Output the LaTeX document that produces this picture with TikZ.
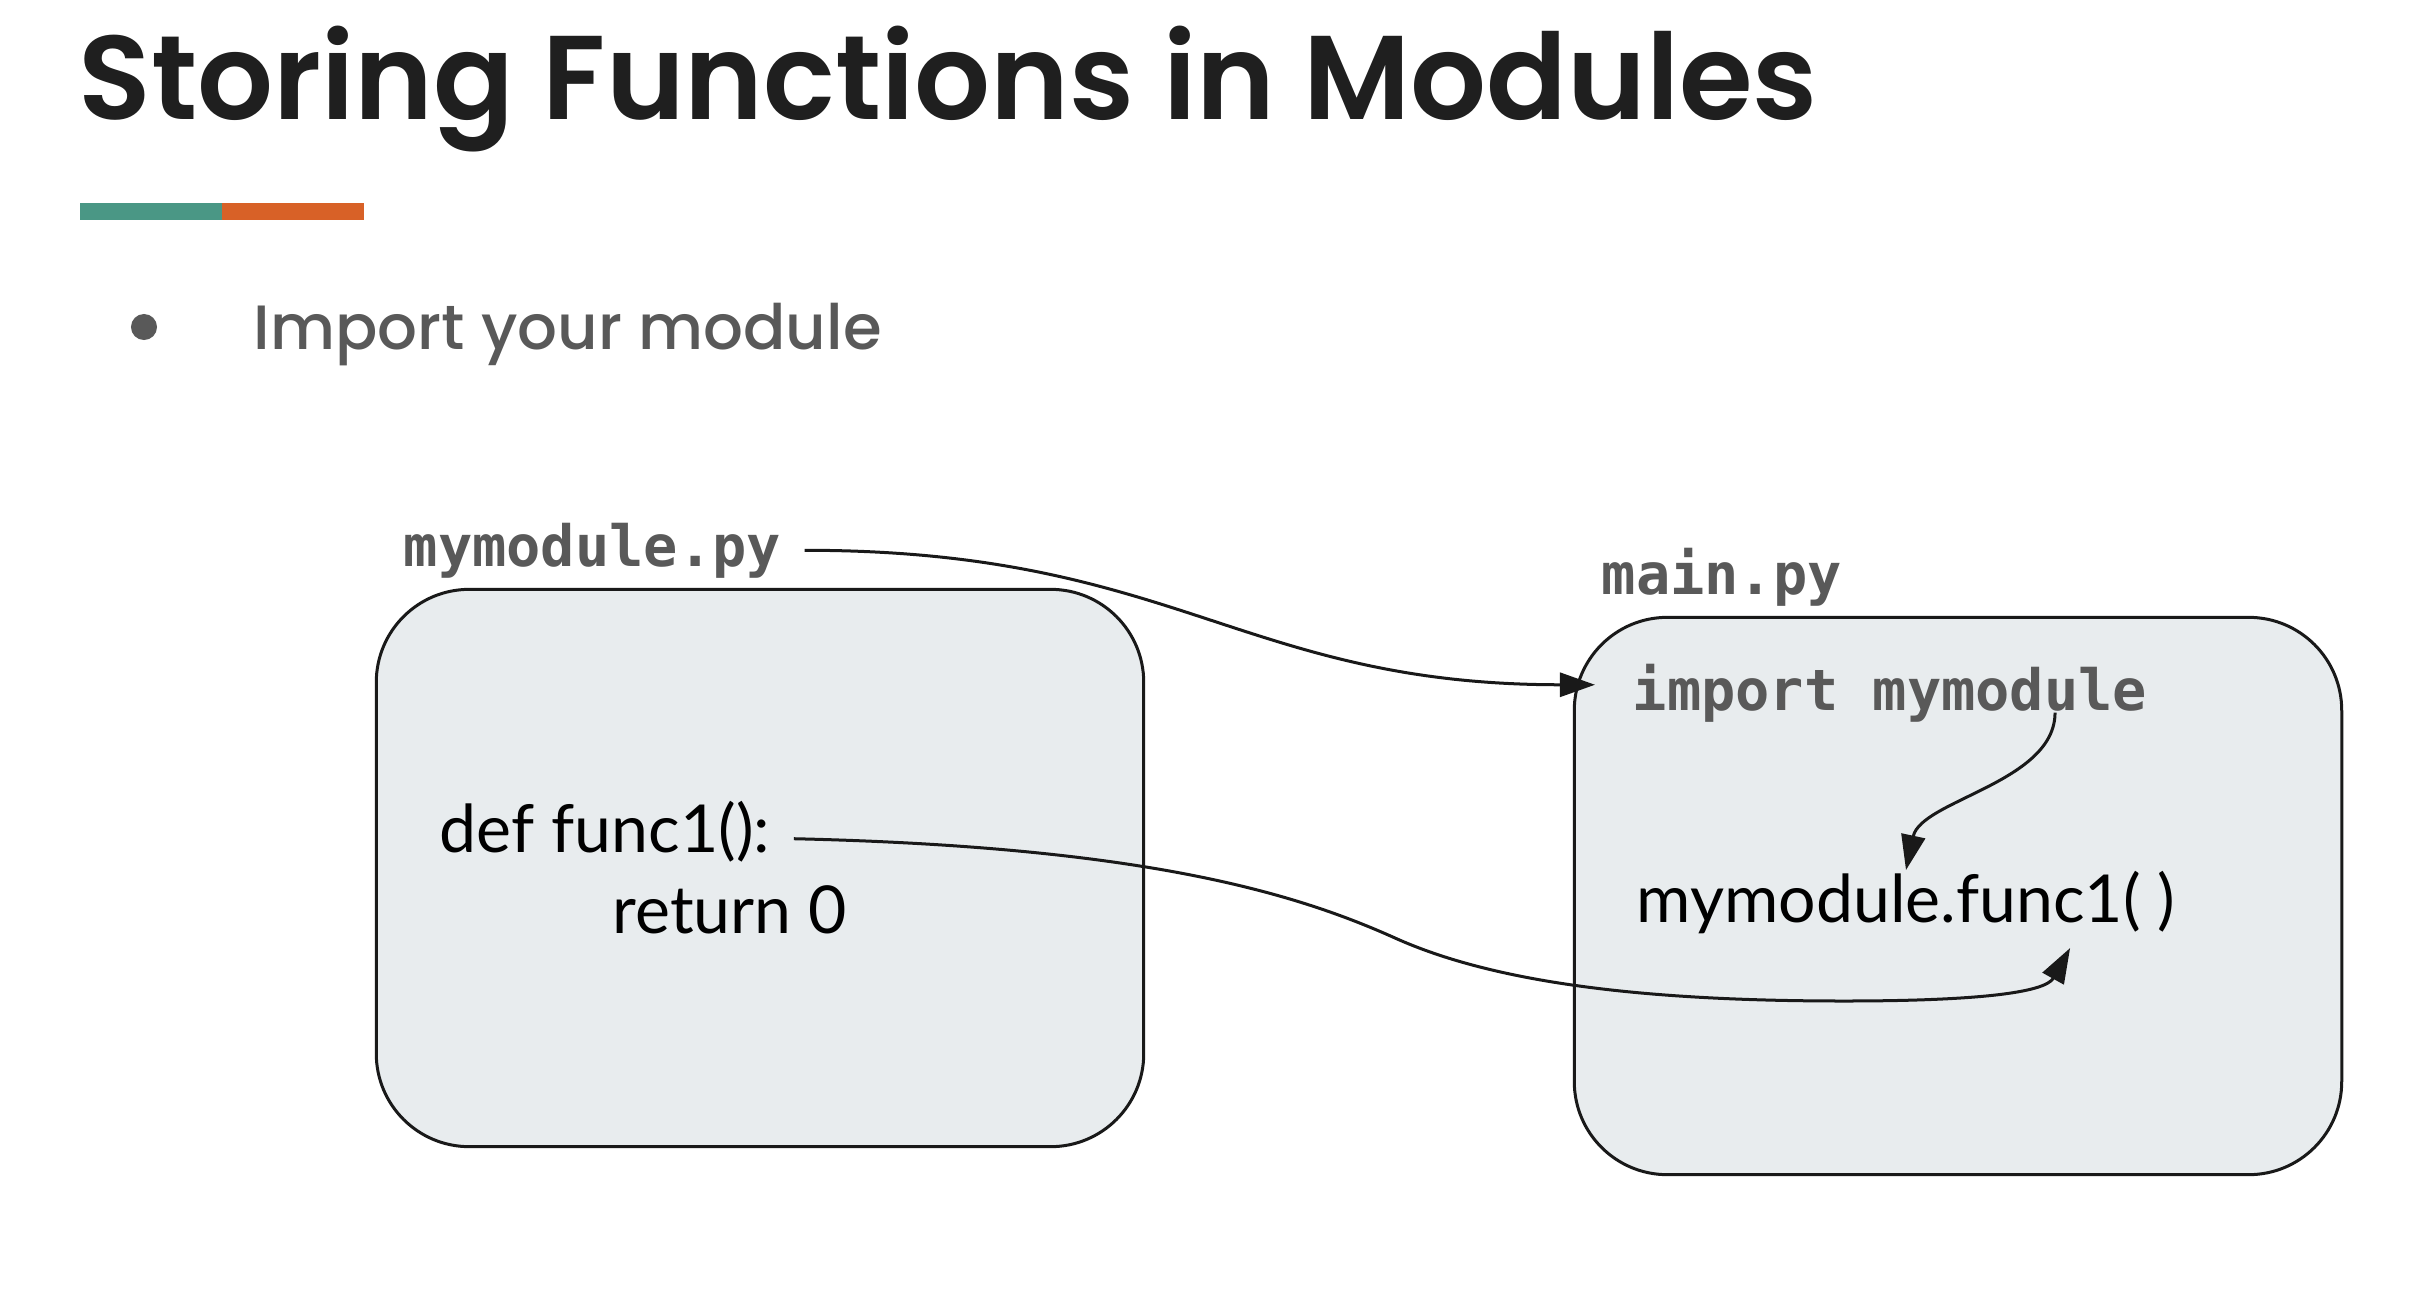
\documentclass[tikz,border=0pt]{standalone}
\usepackage{fontspec}
\setmainfont{Lato}
\newfontfamily\titlefont{Poppins SemiBold}
\newfontfamily\pointfont{Poppins Medium}
\newfontfamily\codefont{DejaVu Sans Mono}
\usetikzlibrary{arrows.meta}

\definecolor{inkdark}{RGB}{31,31,31}
\definecolor{inkgray}{RGB}{89,89,89}
\definecolor{barteal}{RGB}{74,151,133}
\definecolor{barorange}{RGB}{216,97,39}
\definecolor{boxfill}{RGB}{232,236,238}

\begin{document}
\begin{tikzpicture}[
  x=0.01cm, y=-0.01cm,
  modbox/.style={draw=black!90, fill=boxfill, line width=0.03cm, rounded corners=0.93cm, minimum width=7.67cm, minimum height=5.57cm},
  fname/.style={inner sep=0pt, anchor=base west, text=inkgray, font=\codefont\bfseries\fontsize{16.2}{19}\selectfont},
  code/.style={inner sep=0pt, anchor=base west, font=\fontsize{18.8}{22}\selectfont},
  flow/.style={-{Triangle[length=0.35cm,width=0.24cm]}, line width=0.03cm, black!90}
]
\useasboundingbox (0,0) rectangle (2430,1306);

% heading
\node[inner sep=0pt, anchor=base west, text=inkdark, font=\titlefont\fontsize{33.9}{38}\selectfont] (title) at (78,119) {Storing Functions in Modules};
\fill[barteal] (80,203) rectangle (222,220);
\fill[barorange] (222,203) rectangle (364,220);
\fill[inkgray] (144,327) circle (0.13cm);
\node[inner sep=0pt, anchor=base west, text=inkgray, font=\pointfont\fontsize{17.8}{21}\selectfont] (point) at (253,349) {Import your module};

% the two files
\node[modbox] (modfile) at (760,868) {};
\node[modbox] (mainfile) at (1958,896) {};
\node[fname] (modpy) at (403,566) {mymodule.py};
\node[fname] (mainpy) at (1601,594) {main.py};
\node[fname] (import) at (1632,710) {import mymodule};
\node[code] (deffn) at (439,852) {def func1():};
\node[code] (retfn) at (612,933) {return 0};
\node[code] (call) at (1636,922) {mymodule.func1( )};

% links
\draw[flow] ([xshift=0.23cm]modpy.east) .. controls +(372,0) and +(-353,0) .. ([xshift=-0.37cm,yshift=0.08cm]import.west);
\draw[flow] ([xshift=1.65cm,yshift=0.1cm]import.south) .. controls +(0,70) and +(15,-70) .. (call.north);
\draw[flow] ([xshift=0.23cm,yshift=-0.075cm]deffn.east) .. controls +(350,8) and +(-100,-45) .. (1395,938)
  .. controls +(100,45) and +(-200,0) .. (1844,1001)
  .. controls +(130,0) and +(-25,45) .. ([xshift=1.64cm,yshift=-0.14cm]call.south);
\end{tikzpicture}
\end{document}
